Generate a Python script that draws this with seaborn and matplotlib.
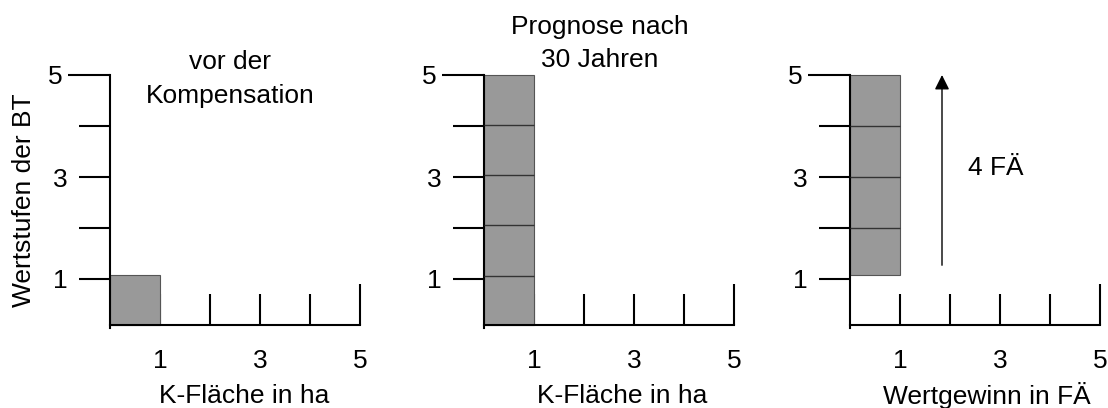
import numpy as np
import matplotlib
matplotlib.use("Agg")
import matplotlib.pyplot as plt
import seaborn as sns

# values
panel_titles = ["vor der\nKompensation", "Prognose nach\n30 Jahren", ""]
x_labels = ["K-Fläche in ha", "K-Fläche in ha", "Wertgewinn in FÄ"]
y_label = "Wertstufen der BT"
bar_left = [0, 0, 0]
bar_width = [1, 1, 1]
bar_bottom = [0.1, 0.1, 1.07]
bar_top = [1.08, 5.0, 5.0]
divisions = [[], [1.06, 2.05, 3.04, 4.01], [2.0, 3.0, 4.0]]
x_ticks = [1, 2, 3, 4, 5]
x_ticklabels = ["1", "", "3", "", "5"]
y_ticks = [1, 2, 3, 4, 5]
y_ticklabels = ["1", "", "3", "", "5"]
arrow_x = 1.84
arrow_from, arrow_to = 1.27, 5.0
arrow_text = "4 FÄ"

sns.set_theme(style="white")
plt.rcParams["font.family"] = ["Liberation Sans", "DejaVu Sans"]
plt.rcParams["text.color"] = "black"
plt.rcParams["xtick.labelcolor"] = "black"
plt.rcParams["ytick.labelcolor"] = "black"
FS = 19

fig = plt.figure(figsize=(11.08, 4.08), dpi=100)
W, H = 1108.0, 408.0
lefts = [110, 484, 850]   # pixel x of the origin of each panel
title_pos = [(2.4, 4.92), (2.32, 5.62), None]
xlabel_x = [2.68, 2.76, 2.74]

axes = []
for i in range(3):
    ax = fig.add_axes([lefts[i] / W, 1 - 330 / H, 255 / W, 265.2 / H])
    ax.set_xlim(0, 5.1)
    ax.set_ylim(0, 5.2)
    ax.set_facecolor("none")
    sns.despine(ax=ax)
    ax.spines["bottom"].set_position(("data", 0.1))
    ax.spines["bottom"].set_bounds(0, 5)
    ax.spines["left"].set_bounds(0.03, 5)
    for s in ("bottom", "left"):
        ax.spines[s].set_linewidth(1.5)
        ax.spines[s].set_color("black")

    # grey bar, with thin division lines
    ax.bar(bar_left[i], bar_top[i] - bar_bottom[i], width=bar_width[i],
           bottom=bar_bottom[i], align="edge", color="#999999",
           edgecolor="#555555", linewidth=0.8, zorder=2)
    if divisions[i]:
        ax.hlines(divisions[i], bar_left[i], bar_left[i] + bar_width[i],
                  color="#333333", linewidth=1.0, zorder=3)

    ax.set_xticks(x_ticks)
    ax.set_xticklabels(x_ticklabels)
    ax.set_yticks(y_ticks)
    ax.set_yticklabels(y_ticklabels)
    ax.tick_params(axis="x", direction="in", length=22.3, width=1.5,
                   pad=17, labelsize=FS, color="black", bottom=True)
    ax.tick_params(axis="y", direction="out", length=22.3, width=1.5,
                   pad=8, labelsize=FS, color="black", left=True)
    # top tick on each axis is drawn a bit longer
    ytop = ax.yaxis.get_major_ticks()[-1]
    ytop.set_pad(11.6)
    ytop.tick1line.set_markersize(30)
    ax.xaxis.get_major_ticks()[-1].tick1line.set_markersize(29.5)

    if panel_titles[i]:
        tx, ty = title_pos[i]
        ax.text(tx, ty, panel_titles[i], ha="center", va="center",
                fontsize=FS, linespacing=1.5, clip_on=False)
    ax.text(xlabel_x[i], -1.29, x_labels[i], ha="center", va="center",
            fontsize=FS, clip_on=False)
    axes.append(ax)

# arrow and annotation in the last panel
axes[2].annotate("", xy=(arrow_x, arrow_to), xytext=(arrow_x, arrow_from),
                 arrowprops=dict(arrowstyle="-|>", color="black", lw=1.0,
                                 mutation_scale=22, shrinkA=0, shrinkB=0))
axes[2].text(2.92, 3.18, arrow_text, ha="center", va="center", fontsize=FS)

fig.text(24 / W, 1 - 200 / H, y_label, rotation=90, ha="center", va="center",
         fontsize=FS)

fig.savefig("out.png", dpi=100)
